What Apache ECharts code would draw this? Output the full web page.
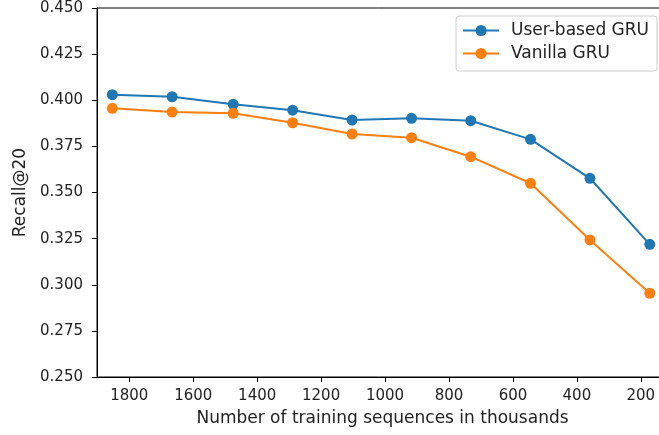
<!DOCTYPE html>
<html>
<head>
<meta charset="utf-8">
<script src="https://cdn.jsdelivr.net/npm/echarts@6/dist/echarts.min.js"></script>
<style>
  html, body { margin: 0; padding: 0; background: #fff; }
  #chart { width: 659px; height: 435px; }
</style>
</head>
<body>
<div id="chart"></div>
<script>
const sequences = [1853, 1666, 1475, 1289, 1103, 917, 732, 545, 359, 172]
const userBasedGru = [0.4030, 0.4019, 0.3978, 0.3946, 0.3893, 0.3902, 0.3889, 0.3788, 0.3577, 0.3219]
const vanillaGru = [0.3956, 0.3936, 0.3929, 0.3878, 0.3817, 0.3797, 0.3694, 0.3550, 0.3243, 0.2954]
const xTicks = [1800, 1600, 1400, 1200, 1000, 800, 600, 400, 200]
const yTicks = [0.250, 0.275, 0.300, 0.325, 0.350, 0.375, 0.400, 0.425, 0.450]

const font = 'DejaVu Sans'
const textColor = '#222'

const myChart = echarts.init(document.getElementById('chart'), null, { renderer: 'canvas' })
const pairs = ys => sequences.map((x, i) => [x, ys[i]])

const option = {
  animation: false,
  backgroundColor: '#fff',
  color: ['#1f77b4', '#ff7f0e'],
  grid: {
    left: 97,
    top: 8,
    width: 571,
    height: 369,
    outerBoundsMode: 'none',
    containLabel: false,
    show: true,
    borderColor: '#000',
    borderWidth: 1
  },
  legend: {
    orient: 'vertical',
    right: 2,
    top: 16,
    padding: [6, 8, 9, 6],
    itemWidth: 36,
    itemHeight: 14,
    itemGap: 6,
    borderColor: '#ccc',
    borderWidth: 1,
    borderRadius: 3,
    backgroundColor: '#fff',
    textStyle: { fontFamily: font, fontSize: 17, color: textColor, padding: [0, 0, 0, 7] },
    data: ['User-based GRU', 'Vanilla GRU']
  },
  xAxis: {
    type: 'value',
    inverse: true,
    min: 115,
    max: 1901,
    name: 'Number of training sequences in thousands',
    nameLocation: 'middle',
    nameGap: 33,
    nameTextStyle: { fontFamily: font, fontSize: 17, color: textColor },
    axisLine: { show: true, lineStyle: { color: '#000', width: 1 } },
    axisTick: { show: true, length: 5, inside: false, customValues: xTicks, lineStyle: { color: '#000' } },
    axisLabel: {
      fontFamily: font,
      fontSize: 15,
      color: textColor,
      margin: 12,
      customValues: xTicks,
      formatter: v => String(v)
    },
    splitLine: { show: false }
  },
  yAxis: {
    type: 'value',
    min: 0.25,
    max: 0.45,
    interval: 0.025,
    name: 'Recall@20',
    nameLocation: 'middle',
    nameGap: 66,
    nameTextStyle: { fontFamily: font, fontSize: 17, color: textColor },
    axisLine: { show: true, lineStyle: { color: '#000', width: 1 } },
    axisTick: { show: true, length: 5, inside: false, lineStyle: { color: '#000' } },
    axisLabel: {
      fontFamily: font,
      fontSize: 15,
      color: textColor,
      margin: 14,
      customValues: yTicks,
      formatter: v => v.toFixed(3)
    },
    splitLine: { show: false }
  },
  series: [
    {
      name: 'User-based GRU',
      type: 'line',
      symbol: 'circle',
      symbolSize: 11,
      lineStyle: { width: 2 },
      data: pairs(userBasedGru)
    },
    {
      name: 'Vanilla GRU',
      type: 'line',
      symbol: 'circle',
      symbolSize: 11,
      lineStyle: { width: 2 },
      data: pairs(vanillaGru)
    }
  ]
}
myChart.setOption(option, true)
</script>
</body>
</html>
